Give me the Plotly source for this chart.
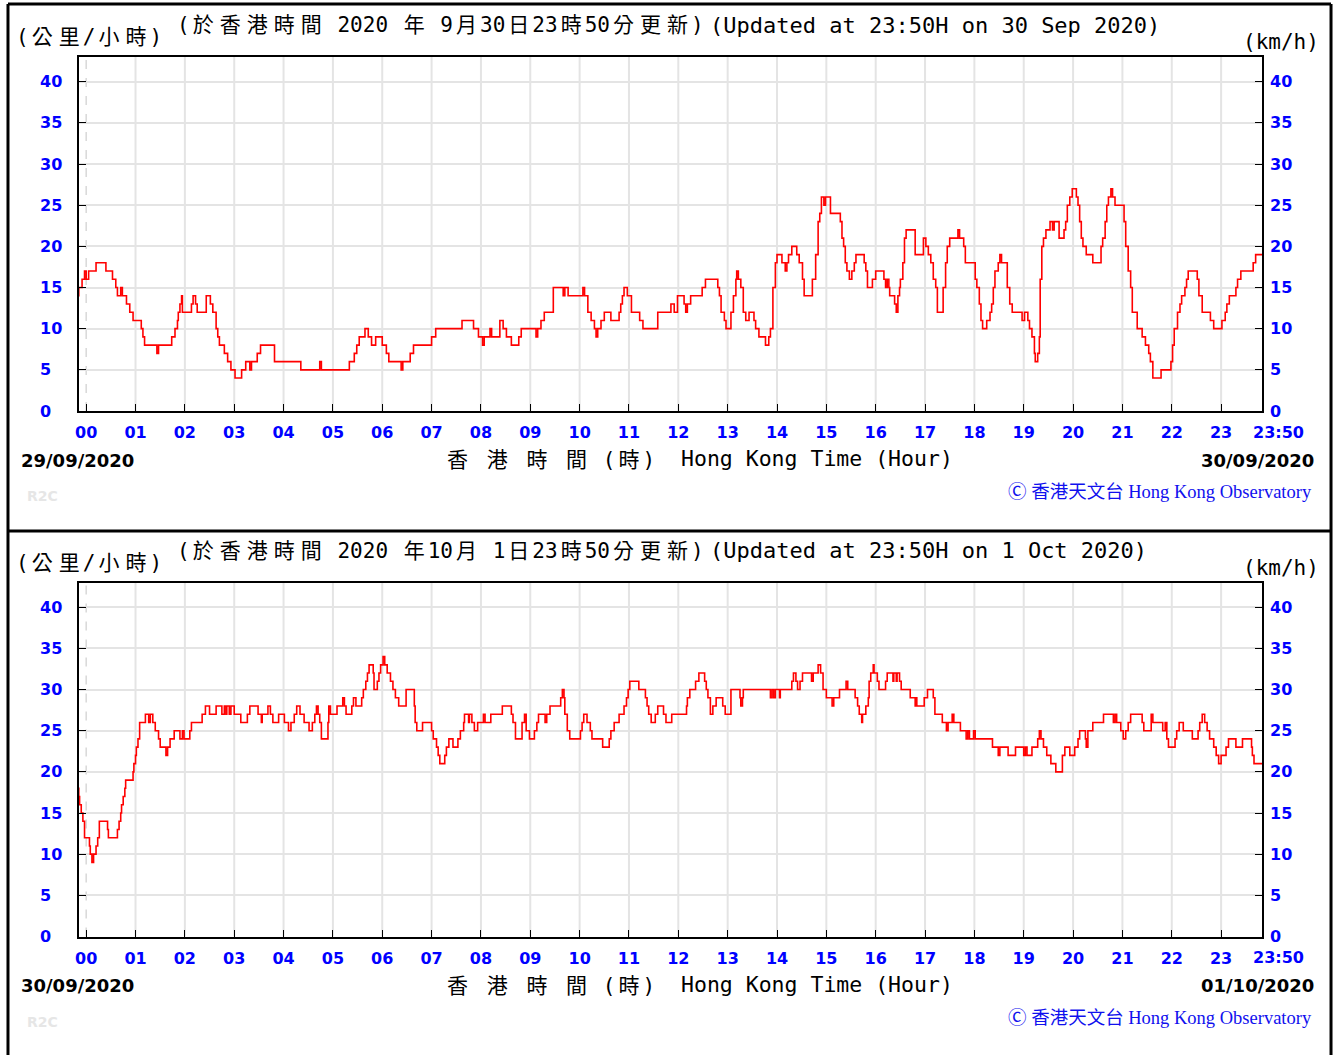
import plotly.graph_objects as go

W, H = 1338, 1055

# ---------------- data ----------------
HOUR_LABELS = ["00", "01", "02", "03", "04", "05", "06", "07", "08", "09", "10", "11",
               "12", "13", "14", "15", "16", "17", "18", "19", "20", "21", "22", "23"]
END_LABEL = "23:50"
END_MINUTE = 1430
Y_TICKS = [0, 5, 10, 15, 20, 25, 30, 35, 40]

# 30 Sep 2020 panel: minutes after 00:00 where the speed (km/h) changes
TOP_TIME = [-10, -9, -5, -2, 0, 3, 12, 24, 32, 36, 38, 42, 44, 49, 53, 57, 67, 69, 71, 86, 88,
            104, 108, 111, 112, 114, 116, 117, 128, 130, 133, 135, 146, 151, 154, 158, 160, 162,
            168, 172, 176, 181, 189, 194, 199, 201, 208, 212, 229, 261, 284, 286, 320, 326, 329,
            332, 339, 343, 347, 352, 360, 365, 368, 383, 385, 394, 398, 420, 425, 457, 471, 477,
            482, 484, 491, 493, 503, 507, 511, 517, 526, 529, 547, 549, 553, 557, 568, 580, 582,
            586, 604, 606, 610, 614, 618, 620, 622, 626, 630, 638, 648, 650, 652, 654, 658, 663,
            673, 677, 695, 711, 715, 719, 727, 729, 731, 735, 749, 753, 768, 770, 772, 776, 778,
            784, 787, 790, 791, 793, 796, 799, 802, 806, 812, 814, 818, 826, 830, 832, 835, 838,
            840, 846, 850, 852, 854, 858, 864, 867, 871, 873, 883, 887, 890, 892, 894, 897, 899,
            905, 917, 919, 921, 923, 925, 928, 931, 934, 936, 946, 948, 950, 956, 960, 970, 972,
            974, 976, 977, 983, 985, 987, 989, 990, 993, 995, 997, 1008, 1018, 1021, 1024, 1027,
            1030, 1033, 1035, 1042, 1045, 1047, 1050, 1060, 1062, 1067, 1069, 1081, 1083, 1086,
            1088, 1090, 1095, 1099, 1101, 1103, 1105, 1109, 1111, 1113, 1120, 1123, 1126, 1138,
            1141, 1145, 1147, 1150, 1153, 1154, 1157, 1159, 1160, 1162, 1164, 1167, 1172, 1175,
            1177, 1183, 1189, 1191, 1193, 1196, 1199, 1204, 1206, 1208, 1210, 1212, 1216, 1224,
            1234, 1236, 1239, 1241, 1243, 1246, 1248, 1251, 1262, 1264, 1267, 1270, 1272, 1278,
            1284, 1288, 1292, 1294, 1297, 1307, 1319, 1321, 1323, 1327, 1330, 1332, 1336, 1338,
            1340, 1351, 1353, 1357, 1367, 1371, 1381, 1385, 1387, 1390, 1398, 1400, 1404, 1419,
            1422, 1430]
TOP_SPEED = [14, 15, 16, 17, 16, 17, 18, 17, 16, 15, 14, 15, 14, 13, 12, 11, 10, 9, 8, 7, 8,
             9, 10, 11, 12, 13, 14, 12, 13, 14, 13, 12, 14, 13, 12, 10, 9, 8,
             7, 6, 5, 4, 5, 6, 5, 6, 7, 8, 6, 5, 6, 5, 6, 7, 8,
             9, 10, 9, 8, 9, 8, 7, 6, 5, 6, 7, 8, 9, 10, 11, 10, 9,
             8, 9, 10, 9, 11, 10, 9, 8, 9, 10, 9, 10, 11, 12, 15, 14, 15,
             14, 15, 14, 12, 11, 10, 9, 10, 11, 12, 11, 12, 13, 14, 15, 14, 12,
             11, 10, 12, 13, 12, 14, 13, 12, 13, 14, 15, 16, 15, 14, 12, 11, 10,
             12, 14, 16, 17, 16, 15, 12, 11, 12, 11, 10, 9, 8, 9, 10, 15, 18,
             19, 18, 17, 18, 19, 20, 19, 18, 16, 14, 16, 19, 23, 24, 26, 25, 26,
             24, 23, 21, 20, 18, 17, 16, 17, 18, 19, 18, 17, 15, 16, 17, 16, 15,
             16, 15, 14, 13, 12, 14, 15, 16, 18, 21, 22, 19, 21, 20, 19, 18,
             16, 15, 12, 15, 18, 20, 21, 22, 21, 20, 18, 16, 15, 13,
             11, 10, 11, 12, 13, 15, 17, 18, 19, 18, 15, 13, 12, 11,
             12, 11, 10, 9, 7, 6, 7, 9, 16, 20, 21, 22, 23, 22,
             23, 21, 22, 23, 25, 26, 27, 26, 25, 23, 21, 20, 19, 18,
             20, 21, 23, 25, 26, 27, 26, 25, 23, 20, 17, 15, 12, 10,
             9, 8, 7, 6, 4, 5, 6, 8, 10, 12, 13, 14, 15, 16,
             17, 16, 14, 12, 11, 10, 11, 12, 13, 14, 15, 16, 17, 18,
             19, 19]

# 1 Oct 2020 panel
BOT_TIME = [-10, -9, -8, -6, -4, -2, 4, 5, 7, 9, 12, 14, 16, 26, 27, 38, 40, 42, 43, 45, 47, 48,
            57, 58, 60, 61, 63, 65, 72, 76, 78, 81, 84, 88, 90, 97, 99, 102, 107, 114, 117, 119,
            126, 128, 141, 145, 150, 158, 165, 168, 170, 171, 174, 176, 180, 188, 196, 199, 209,
            213, 214, 221, 224, 227, 234, 241, 246, 249, 253, 256, 260, 265, 271, 275, 278, 280,
            282, 284, 286, 294, 295, 297, 305, 312, 314, 316, 323, 325, 328, 335, 337, 340, 342,
            344, 349, 350, 354, 356, 358, 361, 363, 366, 370, 373, 376, 380, 389, 399, 400, 402,
            409, 420, 422, 426, 428, 430, 436, 438, 441, 446, 452, 455, 459, 460, 465, 466, 469,
            472, 476, 483, 485, 492, 506, 517, 519, 522, 530, 533, 535, 539, 545, 548, 550, 558,
            560, 564, 577, 579, 581, 582, 585, 588, 601, 603, 605, 609, 613, 615, 628, 636, 638,
            642, 648, 654, 657, 659, 661, 672, 680, 682, 684, 687, 692, 695, 702, 705, 712, 730,
            731, 734, 741, 745, 752, 754, 756, 759, 762, 766, 774, 777, 784, 795, 796, 798, 799,
            832, 834, 836, 838, 843, 844, 858, 860, 863, 865, 868, 871, 882, 884, 890, 893, 896,
            900, 907, 909, 916, 924, 926, 935, 938, 940, 943, 944, 948, 951, 952, 954, 957, 958,
            962, 964, 972, 974, 981, 982, 985, 986, 989, 991, 1002, 1008, 1009, 1010, 1019, 1023,
            1030, 1032, 1041, 1046, 1048, 1053, 1055, 1063, 1070, 1072, 1074, 1079, 1081, 1102,
            1109, 1111, 1121, 1130, 1140, 1142, 1144, 1150, 1157, 1159, 1161, 1164, 1168, 1173,
            1179, 1187, 1190, 1196, 1202, 1206, 1208, 1215, 1216, 1218, 1224, 1237, 1249, 1251,
            1253, 1258, 1261, 1264, 1267, 1270, 1284, 1286, 1295, 1297, 1309, 1312, 1314, 1316,
            1324, 1326, 1329, 1334, 1345, 1352, 1354, 1357, 1360, 1363, 1366, 1371, 1374, 1377,
            1380, 1386, 1389, 1398, 1406, 1417, 1418, 1420, 1430]
BOT_SPEED = [18, 17, 16, 15, 14, 12, 11, 10, 9, 10, 11, 12, 14, 13, 12, 13, 14, 15, 16, 17, 18, 19,
             20, 21, 22, 23, 24, 26, 27, 26, 27, 26, 25, 24, 23, 22, 23, 24, 25, 24, 25, 24,
             25, 26, 27, 28, 27, 28, 27, 28, 27, 28, 27, 28, 27, 26, 27, 28, 27,
             26, 27, 28, 27, 26, 27, 26, 25, 26, 27, 28, 27, 26, 25, 26, 27, 28,
             27, 26, 24, 26, 28, 27, 28, 29, 28, 27, 28, 29, 28, 29, 30, 31, 32,
             33, 32, 30, 31, 32, 33, 34, 33, 32, 31, 30, 29, 28, 30, 28, 26, 25,
             26, 25, 24, 23, 22, 21, 22, 23, 24, 23, 24, 25, 26, 27, 26, 27, 26,
             25, 26, 27, 26, 27, 28, 27, 26, 24, 26, 27, 25, 24, 25, 26, 27, 26,
             27, 28, 29, 30, 29, 27, 25, 24, 25, 26, 27, 26, 25, 24, 23, 24, 25,
             26, 27, 28, 29, 30, 31, 30, 29, 28, 27, 26, 27, 28, 27, 26, 27, 28,
             29, 30, 31, 32, 31, 30, 29, 27, 28, 29, 28, 27, 30, 29, 28, 29, 30,
             29, 30, 29, 30, 29, 30, 31, 32, 31, 30, 31, 32, 31, 32, 33, 32, 30,
             29, 28, 29, 30, 31, 30, 29, 28, 27, 26, 27, 28, 29, 31, 32, 33, 32,
             31, 30, 31, 32, 31, 32, 31, 32, 31, 30, 29, 28, 29, 28, 29, 30,
             29, 27, 26, 25, 26, 27, 26, 25, 24, 25, 24, 25, 24, 23,
             22, 23, 22, 23, 22, 23, 22, 23, 24, 25, 24, 23, 22, 21,
             20, 22, 23, 22, 23, 24, 25, 24, 23, 25, 26, 27, 26, 27,
             26, 25, 24, 25, 26, 27, 26, 25, 27, 26, 25, 26, 24, 23,
             24, 25, 26, 25, 24, 25, 26, 27, 26, 25, 24, 23, 22, 21,
             22, 23, 24, 23, 24, 23, 22, 21, 21]

PANELS = [
    dict(time=TOP_TIME, speed=TOP_SPEED,
         title_zh="(於香港時間 2020 年 9月30日23時50分更新)",
         title_en="(Updated at 23:50H on 30 Sep 2020)",
         date_left="29/09/2020", date_right="30/09/2020"),
    dict(time=BOT_TIME, speed=BOT_SPEED,
         title_zh="(於香港時間 2020 年10月 1日23時50分更新)",
         title_en="(Updated at 23:50H on 1 Oct 2020)",
         date_left="30/09/2020", date_right="01/10/2020"),
]

# ---------------- styling / layout ----------------
MONO = "DejaVu Sans Mono, Noto Sans CJK TC"
BOLD = "DejaVu Sans"
BLUE = "#0000FF"
GRID = "#e4e4e4"
PANEL_OFFSET = 525.5

def px(x):
    return x / W

def py(y):
    return 1 - y / H

def cjk(s):
    # CJK glyphs occupy two mono cells in the original; pad them slightly
    out = ""
    for ch in s:
        if ord(ch) >= 0x2E80:
            out += '<span style="font-size:5px">\u00a0</span>' + ch + '<span style="font-size:5px">\u00a0</span>'
        else:
            out += ch
    return out

fig = go.Figure()
annotations = []
shapes = []
layout_axes = {}

hour_minutes = [int(h) * 60 for h in HOUR_LABELS]

for i, p in enumerate(PANELS):
    dy = i * PANEL_OFFSET
    sfx = "" if i == 0 else str(i + 1)
    xa, ya = "x" + sfx, "y" + sfx

    fig.add_trace(go.Scatter(
        x=p["time"], y=p["speed"], mode="lines",
        line=dict(color="#FF0000", width=1.6, shape="hv"),
        xaxis=xa, yaxis=ya, hoverinfo="skip", showlegend=False))

    layout_axes["xaxis" + sfx] = dict(
        domain=[px(75), px(1262)], range=[-9, END_MINUTE], anchor=ya,
        tickvals=hour_minutes + [END_MINUTE], ticktext=HOUR_LABELS + [""],
        ticks="inside", ticklen=7, tickwidth=1, tickcolor="black",
        showline=True, linecolor="black", linewidth=2, mirror=True,
        showgrid=False, zeroline=False, ticklabelstandoff=6,
        tickfont=dict(family=BOLD, size=16, color=BLUE, weight="bold"))
    layout_axes["yaxis" + sfx] = dict(
        domain=[py(411 + dy), py(57 + dy)], range=[0, 43], anchor=xa,
        tickvals=Y_TICKS, showticklabels=False,
        ticks="inside", ticklen=7, tickwidth=1, tickcolor="black",
        showline=True, linecolor="black", linewidth=2, mirror="ticks",
        showgrid=True, gridcolor=GRID, gridwidth=2, zeroline=False)

    # vertical hour grid
    for m in hour_minutes:
        shapes.append(dict(type="line", xref=xa, yref=ya + " domain",
                           x0=m, x1=m, y0=0, y1=1, layer="below",
                           line=dict(color="#d8d8d8" if m == 0 else GRID,
                                     width=1.5 if m == 0 else 2,
                                     dash="dash" if m == 0 else "solid")))

    # y tick labels on both sides
    for v in Y_TICKS:
        annotations.append(dict(text=str(v), xref="paper", yref=ya, x=px(34), y=v,
                                xanchor="left", yanchor="middle", showarrow=False,
                                font=dict(family=BOLD, size=16, color=BLUE, weight="bold")))
        annotations.append(dict(text=str(v), xref="paper", yref=ya, x=px(1268), y=v,
                                xanchor="left", yanchor="middle", showarrow=False,
                                font=dict(family=BOLD, size=16, color=BLUE, weight="bold")))

    annotations.append(dict(text=END_LABEL, xref="paper", yref="paper",
                            x=px(1278), y=py(432 + dy), xanchor="center", yanchor="middle",
                            showarrow=False,
                            font=dict(family=BOLD, size=16, color=BLUE, weight="bold")))

    def txt(text, x, y, anchor="left", size=21, family=MONO, color="black", weight="normal"):
        annotations.append(dict(text=text, xref="paper", yref="paper", x=px(x), y=py(y + dy),
                                xanchor=anchor, yanchor="middle", showarrow=False,
                                font=dict(family=family, size=size, color=color, weight=weight)))

    txt(cjk("(公里/小時)"), 10, 37)
    txt(cjk(p["title_zh"]), 172, 25)
    txt(p["title_en"], 706, 25, size=22)
    txt("(km/h)", 1321, 42, anchor="right")
    txt(p["date_left"], 15, 460, size=18, family=BOLD, weight="bold")
    txt(p["date_right"], 1316, 460, anchor="right", size=18, family=BOLD, weight="bold")
    txt(cjk("香 港 時 間 (時)"), 439, 460)
    txt("Hong Kong Time (Hour)", 677, 459, size=21.5)
    txt("Ⓒ 香港天文台 Hong Kong Observatory", 1314, 492, anchor="right", size=18.5,
        family="Liberation Serif, Noto Sans CJK TC", color="#1010ee")
    txt("R2C", 21, 496, size=14, family=BOLD, color="#e6e6e6", weight="bold")

# outer frames
FRAME = "#000000"
for (x0, y0, x1, y1) in [(4, 4, 1331, 4), (4, 531, 1331, 531), (4, 4, 4, 1055), (1331, 4, 1331, 1055)]:
    shapes.append(dict(type="line", xref="paper", yref="paper",
                       x0=px(x0), x1=px(x1), y0=py(y0), y1=py(y1),
                       line=dict(color=FRAME, width=3)))

fig.update_layout(
    width=W, height=H, margin=dict(l=0, r=0, t=0, b=0),
    paper_bgcolor="white", plot_bgcolor="white",
    annotations=annotations, shapes=shapes, showlegend=False,
    **layout_axes)

fig.write_html("out.html", config={"displayModeBar": False},
               post_script="document.body.style.margin='0px';document.body.style.overflow='hidden';")
